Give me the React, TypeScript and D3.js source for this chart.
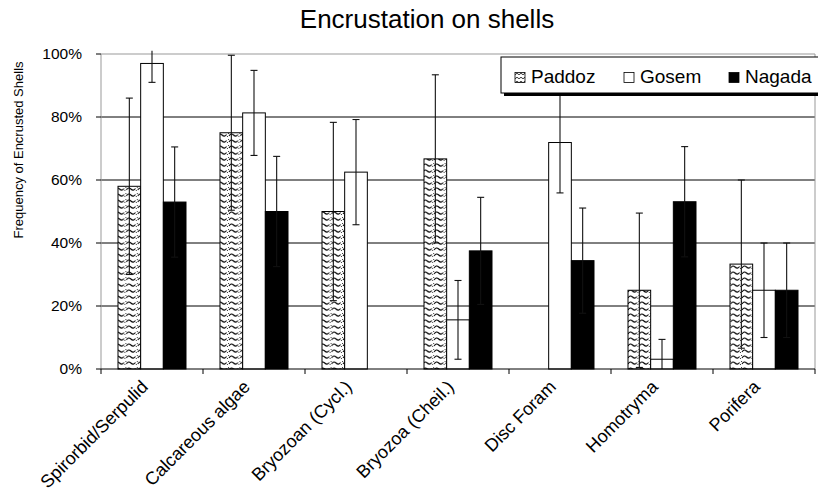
import React from "react";
import * as d3 from "d3";

const categories = [
  "Spirorbid/Serpulid",
  "Calcareous algae",
  "Bryozoan (Cycl.)",
  "Bryozoa (Cheil.)",
  "Disc Foram",
  "Homotryma",
  "Porifera",
];
const seriesNames = ["Paddoz", "Gosem", "Nagada"];

// values in percent
const paddoz = [58, 75, 50, 66.7, 0, 25, 33.3];
const gosem = [97, 81.3, 62.5, 15.6, 71.9, 3.1, 25];
const nagada = [53, 50, 0, 37.5, 34.4, 53.1, 25];

// error bar half-widths, percent
const paddozErr = [28, 24.6, 28.3, 26.7, 0, 24.5, 26.7];
const gosemErr = [6, 13.5, 16.7, 12.5, 16, 6.3, 15];
const nagadaErr = [17.5, 17.5, 0, 17, 16.7, 17.5, 15];

const yTicks = [0, 20, 40, 60, 80, 100];

const W = 818;
const H = 497;
const margin = { top: 54, right: 3, bottom: 128, left: 101 };
const font = "'Liberation Sans', Arial, sans-serif";

const App = () => {
  const plotRight = W - margin.right;
  const plotBottom = H - margin.bottom;

  const x0 = d3
    .scaleBand()
    .domain(categories)
    .range([margin.left, plotRight])
    .paddingInner(1 / 3)
    .paddingOuter(1 / 6);
  const x1 = d3
    .scaleBand()
    .domain(seriesNames)
    .range([0, x0.bandwidth()]);
  const y = d3.scaleLinear().domain([0, 100]).range([plotBottom, margin.top]);

  const series = [
    { name: "Paddoz", values: paddoz, errs: paddozErr, fill: "url(#wave)" },
    { name: "Gosem", values: gosem, errs: gosemErr, fill: "#fff" },
    { name: "Nagada", values: nagada, errs: nagadaErr, fill: "#000" },
  ];

  // category boundaries for x ticks
  const step = x0.step();
  const tickXs = d3.range(categories.length + 1).map((i) => margin.left + i * step);

  const legendItems = [
    { name: "Paddoz", fill: "url(#waveSmall)", sx: 515, tx: 531 },
    { name: "Gosem", fill: "#fff", sx: 624, tx: 640 },
    { name: "Nagada", fill: "#000", sx: 729, tx: 745 },
  ];

  return (
    <svg
      width={W}
      height={H}
      style={{ position: "absolute", left: 0, top: 0, background: "#fff" }}
      fontFamily={font}
    >
      <defs>
        <pattern id="wave" width="11.4" height="6" patternUnits="userSpaceOnUse" x={0} y={0}>
          <rect width="11.4" height="6" fill="#fff" />
          <path d="M1,4 Q3,0.5 5.5,3 T10,2.5" fill="none" stroke="#000" strokeWidth="1.1" />
          <path d="M0.5,1 L0.5,1.8 M10.9,4 L10.9,4.8" stroke="#000" strokeWidth="1" />
        </pattern>
        <pattern id="waveSmall" width="4" height="4" patternUnits="userSpaceOnUse">
          <rect width="4" height="4" fill="#fff" />
          <path d="M0,2 Q1,0.5 2,2 T4,2" fill="none" stroke="#000" strokeWidth="0.8" />
        </pattern>
      </defs>

      {/* title */}
      <text x={427} y={28} textAnchor="middle" fontSize={26} fill="#000">
        Encrustation on shells
      </text>

      {/* gridlines */}
      {yTicks
        .filter((t) => t > 0 && t < 100)
        .map((t) => (
          <line key={t} x1={margin.left} x2={plotRight} y1={y(t)} y2={y(t)} stroke="#000" strokeWidth={1} />
        ))}

      {/* plot border */}
      <path
        d={`M${margin.left},${plotBottom} V${margin.top} H${plotRight} V${plotBottom}`}
        fill="none"
        stroke="#999"
        strokeWidth={1}
      />

      {/* bars */}
      {series.map((s) =>
        s.values.map((v, i) => (
          <rect
            key={s.name + i}
            x={(x0(categories[i]) ?? 0) + (x1(s.name) ?? 0)}
            y={y(v)}
            width={x1.bandwidth()}
            height={plotBottom - y(v)}
            fill={s.fill}
            stroke={v > 0 ? "#000" : "#999"}
            strokeWidth={1}
          />
        ))
      )}

      {/* error bars */}
      {series.map((s) =>
        s.values.map((v, i) => {
          const e = s.errs[i];
          if (!e) return null;
          const cx = (x0(categories[i]) ?? 0) + (x1(s.name) ?? 0) + x1.bandwidth() / 2;
          const hi = Math.min(v + e, 101);
          const lo = Math.max(v - e, 0);
          return (
            <g key={"e" + s.name + i} stroke="#111" strokeWidth={1.1}>
              <line x1={cx} x2={cx} y1={y(hi)} y2={y(lo)} />
              {v + e <= 100 && <line x1={cx - 3.5} x2={cx + 3.5} y1={y(hi)} y2={y(hi)} />}
              {v - e >= 0 && <line x1={cx - 3.5} x2={cx + 3.5} y1={y(lo)} y2={y(lo)} />}
            </g>
          );
        })
      )}

      {/* x axis */}
      <line x1={margin.left} x2={plotRight} y1={plotBottom} y2={plotBottom} stroke="#000" strokeWidth={1} />
      {tickXs.map((tx, i) => (
        <line key={i} x1={tx} x2={tx} y1={plotBottom} y2={plotBottom + 5} stroke="#000" strokeWidth={1} />
      ))}
      {categories.map((c) => {
        const cx = (x0(c) ?? 0) + x0.bandwidth() / 2;
        return (
          <text
            key={c}
            transform={`translate(${cx - 3},${plotBottom + 19}) rotate(-45)`}
            textAnchor="end"
            fontSize={18}
          >
            {c}
          </text>
        );
      })}

      {/* y axis ticks & labels */}
      {yTicks.map((t) => (
        <g key={t}>
          <line x1={margin.left - 5} x2={margin.left} y1={y(t)} y2={y(t)} stroke="#000" strokeWidth={1} />
          <text x={82} y={y(t)} dy="0.35em" textAnchor="end" fontSize={15.5}>
            {`${t}%`}
          </text>
        </g>
      ))}
      <text
        transform={`translate(18,150) rotate(-90)`}
        textAnchor="middle"
        fontSize={13}
        dy="0.35em"
      >
        Frequency of Encrusted Shells
      </text>

      {/* legend */}
      <rect x={504} y={60} width={330} height={36} fill="#000" />
      <rect x={501} y={57} width={330} height={36} fill="#fff" stroke="#000" strokeWidth={1} />
      {legendItems.map((l) => (
        <g key={l.name}>
          <rect x={l.sx} y={72.5} width={10} height={10} fill={l.fill} stroke="#000" strokeWidth={0.8} />
          <text x={l.tx} y={83} fontSize={19}>
            {l.name}
          </text>
        </g>
      ))}
    </svg>
  );
};

export default App;
